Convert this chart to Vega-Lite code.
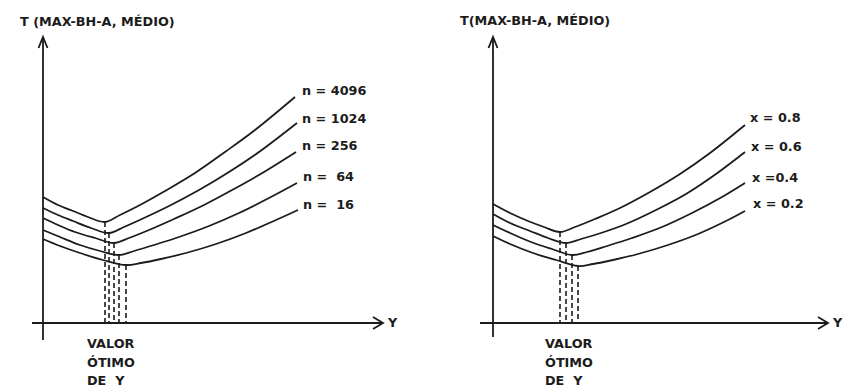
{
  "$schema": "https://vega.github.io/schema/vega-lite/v6.json",
  "padding": 0,
  "spacing": 0,
  "bounds": "flush",
  "background": "white",
  "config": {
    "view": {"stroke": null},
    "text": {"font": "DejaVu Sans", "fontWeight": "bold", "fontSize": 12.8, "color": "#1c1c1c", "align": "left", "baseline": "middle"}
  },
  "datasets": {
    "curvesL": [
      {"s": "4096", "Yv": 0, "Tv": 12.6}, {"s": "4096", "Yv": 1.5, "Tv": 11.8}, {"s": "4096", "Yv": 3.0, "Tv": 11.2}, {"s": "4096", "Yv": 4.5, "Tv": 10.6}, {"s": "4096", "Yv": 6.2, "Tv": 10.1}, {"s": "4096", "Yv": 7.7, "Tv": 10.8}, {"s": "4096", "Yv": 9.7, "Tv": 11.8}, {"s": "4096", "Yv": 12.2, "Tv": 13.2}, {"s": "4096", "Yv": 15.2, "Tv": 15.0}, {"s": "4096", "Yv": 18.2, "Tv": 17.1}, {"s": "4096", "Yv": 21.2, "Tv": 19.3}, {"s": "4096", "Yv": 25.2, "Tv": 22.6},
      {"s": "1024", "Yv": 0, "Tv": 11.5}, {"s": "1024", "Yv": 1.5, "Tv": 10.8}, {"s": "1024", "Yv": 3.0, "Tv": 10.2}, {"s": "1024", "Yv": 4.8, "Tv": 9.5}, {"s": "1024", "Yv": 6.6, "Tv": 9.0}, {"s": "1024", "Yv": 8.1, "Tv": 9.6}, {"s": "1024", "Yv": 10.1, "Tv": 10.5}, {"s": "1024", "Yv": 12.6, "Tv": 11.7}, {"s": "1024", "Yv": 15.6, "Tv": 13.3}, {"s": "1024", "Yv": 18.6, "Tv": 15.1}, {"s": "1024", "Yv": 21.6, "Tv": 17.1}, {"s": "1024", "Yv": 25.4, "Tv": 20.0},
      {"s": "256", "Yv": 0, "Tv": 10.5}, {"s": "256", "Yv": 1.5, "Tv": 9.8}, {"s": "256", "Yv": 3.2, "Tv": 9.1}, {"s": "256", "Yv": 5.2, "Tv": 8.5}, {"s": "256", "Yv": 7.1, "Tv": 8.0}, {"s": "256", "Yv": 8.6, "Tv": 8.5}, {"s": "256", "Yv": 10.6, "Tv": 9.3}, {"s": "256", "Yv": 13.1, "Tv": 10.4}, {"s": "256", "Yv": 16.1, "Tv": 11.8}, {"s": "256", "Yv": 19.1, "Tv": 13.4}, {"s": "256", "Yv": 22.1, "Tv": 15.1}, {"s": "256", "Yv": 25.3, "Tv": 17.1},
      {"s": "64", "Yv": 0, "Tv": 9.3}, {"s": "64", "Yv": 1.7, "Tv": 8.6}, {"s": "64", "Yv": 3.7, "Tv": 7.8}, {"s": "64", "Yv": 5.7, "Tv": 7.2}, {"s": "64", "Yv": 7.6, "Tv": 6.8}, {"s": "64", "Yv": 9.1, "Tv": 7.2}, {"s": "64", "Yv": 11.1, "Tv": 7.8}, {"s": "64", "Yv": 13.6, "Tv": 8.6}, {"s": "64", "Yv": 16.6, "Tv": 9.7}, {"s": "64", "Yv": 19.6, "Tv": 11.0}, {"s": "64", "Yv": 22.6, "Tv": 12.5}, {"s": "64", "Yv": 25.4, "Tv": 14.0},
      {"s": "16", "Yv": 0, "Tv": 8.4}, {"s": "16", "Yv": 1.7, "Tv": 7.7}, {"s": "16", "Yv": 3.7, "Tv": 7.0}, {"s": "16", "Yv": 6.0, "Tv": 6.3}, {"s": "16", "Yv": 8.3, "Tv": 5.8}, {"s": "16", "Yv": 9.8, "Tv": 6.0}, {"s": "16", "Yv": 11.8, "Tv": 6.4}, {"s": "16", "Yv": 14.3, "Tv": 7.0}, {"s": "16", "Yv": 17.3, "Tv": 7.9}, {"s": "16", "Yv": 20.3, "Tv": 9.0}, {"s": "16", "Yv": 23.3, "Tv": 10.3}, {"s": "16", "Yv": 25.5, "Tv": 11.3}
    ],
    "curvesR": [
      {"s": "0.8", "Yv": 0, "Tv": 11.9}, {"s": "0.8", "Yv": 1.7, "Tv": 11.0}, {"s": "0.8", "Yv": 3.5, "Tv": 10.2}, {"s": "0.8", "Yv": 5.1, "Tv": 9.6}, {"s": "0.8", "Yv": 6.7, "Tv": 9.1}, {"s": "0.8", "Yv": 8.2, "Tv": 9.6}, {"s": "0.8", "Yv": 10.2, "Tv": 10.4}, {"s": "0.8", "Yv": 12.7, "Tv": 11.5}, {"s": "0.8", "Yv": 15.7, "Tv": 13.1}, {"s": "0.8", "Yv": 18.7, "Tv": 14.9}, {"s": "0.8", "Yv": 21.7, "Tv": 17.0}, {"s": "0.8", "Yv": 25.2, "Tv": 19.8},
      {"s": "0.6", "Yv": 0, "Tv": 10.9}, {"s": "0.6", "Yv": 1.7, "Tv": 10.0}, {"s": "0.6", "Yv": 3.7, "Tv": 9.2}, {"s": "0.6", "Yv": 5.5, "Tv": 8.5}, {"s": "0.6", "Yv": 7.3, "Tv": 8.0}, {"s": "0.6", "Yv": 8.8, "Tv": 8.4}, {"s": "0.6", "Yv": 10.8, "Tv": 9.0}, {"s": "0.6", "Yv": 13.3, "Tv": 9.9}, {"s": "0.6", "Yv": 16.3, "Tv": 11.3}, {"s": "0.6", "Yv": 19.3, "Tv": 12.9}, {"s": "0.6", "Yv": 22.3, "Tv": 14.9}, {"s": "0.6", "Yv": 25.2, "Tv": 17.1},
      {"s": "0.4", "Yv": 0, "Tv": 9.8}, {"s": "0.4", "Yv": 1.7, "Tv": 9.0}, {"s": "0.4", "Yv": 3.8, "Tv": 8.1}, {"s": "0.4", "Yv": 5.9, "Tv": 7.4}, {"s": "0.4", "Yv": 7.9, "Tv": 6.8}, {"s": "0.4", "Yv": 9.4, "Tv": 7.1}, {"s": "0.4", "Yv": 11.4, "Tv": 7.7}, {"s": "0.4", "Yv": 13.9, "Tv": 8.5}, {"s": "0.4", "Yv": 16.9, "Tv": 9.6}, {"s": "0.4", "Yv": 19.9, "Tv": 11.0}, {"s": "0.4", "Yv": 22.9, "Tv": 12.6}, {"s": "0.4", "Yv": 25.2, "Tv": 14.0},
      {"s": "0.2", "Yv": 0, "Tv": 8.7}, {"s": "0.2", "Yv": 1.7, "Tv": 7.9}, {"s": "0.2", "Yv": 4.0, "Tv": 7.0}, {"s": "0.2", "Yv": 6.3, "Tv": 6.3}, {"s": "0.2", "Yv": 8.5, "Tv": 5.7}, {"s": "0.2", "Yv": 10.0, "Tv": 5.9}, {"s": "0.2", "Yv": 12.0, "Tv": 6.3}, {"s": "0.2", "Yv": 14.5, "Tv": 6.9}, {"s": "0.2", "Yv": 17.5, "Tv": 7.8}, {"s": "0.2", "Yv": 20.5, "Tv": 8.9}, {"s": "0.2", "Yv": 23.5, "Tv": 10.3}, {"s": "0.2", "Yv": 25.2, "Tv": 11.2}
    ],
    "dashL": [
      {"Yv": 6.2, "Tv": 10.1}, {"Yv": 6.6, "Tv": 9.0}, {"Yv": 7.1, "Tv": 8.0}, {"Yv": 7.6, "Tv": 6.8}, {"Yv": 8.3, "Tv": 5.8}
    ],
    "dashR": [
      {"Yv": 6.7, "Tv": 9.1}, {"Yv": 7.3, "Tv": 8.0}, {"Yv": 7.9, "Tv": 6.8}, {"Yv": 8.5, "Tv": 5.7}
    ],
    "vaxisL": [{"Yv": 0, "Tv": -1.7, "Tv2": 28.6}],
    "haxisL": [{"Yv": -1.1, "Yv2": 34.0, "Tv": 0}],
    "vaxisR": [{"Yv": 0, "Tv": -1.4, "Tv2": 28.6}],
    "haxisR": [{"Yv": -1.3, "Yv2": 33.5, "Tv": 0}],
    "arrowsL": [{"Yv": 0, "Tv": 28.6, "dir": "up"}, {"Yv": 34.0, "Tv": 0, "dir": "right"}],
    "arrowsR": [{"Yv": 0, "Tv": 28.6, "dir": "up"}, {"Yv": 33.5, "Tv": 0, "dir": "right"}],
    "textL": [
      {"Yv": -2.3, "Tv": 30.1, "label": "T (MAX-BH-A, MÉDIO)"},
      {"Yv": 34.5, "Tv": 0, "label": "Y"},
      {"Yv": 25.9, "Tv": 23.2, "label": "n = 4096"},
      {"Yv": 25.9, "Tv": 20.4, "label": "n = 1024"},
      {"Yv": 25.9, "Tv": 17.7, "label": "n = 256"},
      {"Yv": 26.0, "Tv": 14.6, "label": "n =\u00a0\u00a064"},
      {"Yv": 26.0, "Tv": 11.8, "label": "n =\u00a0\u00a016"},
      {"Yv": 4.4, "Tv": -2.1, "label": "VALOR"},
      {"Yv": 4.4, "Tv": -4.0, "label": "ÓTIMO"},
      {"Yv": 4.4, "Tv": -5.8, "label": "DE\u00a0\u00a0Y"}
    ],
    "textR": [
      {"Yv": -3.3, "Tv": 30.2, "label": "T(MAX-BH-A, MÉDIO)"},
      {"Yv": 34.0, "Tv": 0, "label": "Y"},
      {"Yv": 25.7, "Tv": 20.5, "label": "x = 0.8"},
      {"Yv": 25.8, "Tv": 17.6, "label": "x = 0.6"},
      {"Yv": 25.9, "Tv": 14.5, "label": "x =0.4"},
      {"Yv": 26.0, "Tv": 11.9, "label": "x = 0.2"},
      {"Yv": 5.2, "Tv": -2.1, "label": "VALOR"},
      {"Yv": 5.2, "Tv": -4.0, "label": "ÓTIMO"},
      {"Yv": 5.2, "Tv": -5.8, "label": "DE\u00a0\u00a0Y"}
    ]
  },
  "hconcat": [
    {
      "width": 421,
      "height": 389,
      "encoding": {
        "x": {"field": "Yv", "type": "quantitative", "scale": {"domain": [-4.3, 37.8], "nice": false, "zero": false}, "axis": null},
        "y": {"field": "Tv", "type": "quantitative", "scale": {"domain": [-6.6, 32.3], "nice": false, "zero": false}, "axis": null}
      },
      "layer": [
        {"data": {"name": "dashL"}, "mark": {"type": "rule", "color": "#1c1c1c", "strokeWidth": 1.6, "strokeDash": [5, 3]}, "encoding": {"y2": {"datum": 0}}},
        {"data": {"name": "curvesL"}, "mark": {"type": "line", "color": "#1c1c1c", "strokeWidth": 1.8, "interpolate": "catmull-rom"}, "encoding": {"detail": {"field": "s"}}},
        {"data": {"name": "vaxisL"}, "mark": {"type": "rule", "color": "#1c1c1c", "strokeWidth": 1.8}, "encoding": {"y2": {"field": "Tv2"}}},
        {"data": {"name": "haxisL"}, "mark": {"type": "rule", "color": "#1c1c1c", "strokeWidth": 1.8}, "encoding": {"x2": {"field": "Yv2"}}},
        {"data": {"name": "arrowsL"}, "mark": {"type": "point", "filled": false, "size": 100, "strokeWidth": 1.8, "color": "#1c1c1c", "opacity": 1}, "encoding": {"shape": {"field": "dir", "type": "nominal", "scale": {"domain": ["up", "right"], "range": ["M-0.9,2.2L0,0L0.9,2.2", "M-2,-1.2L0,0L-2,1.2"]}, "legend": null}}},
        {"data": {"name": "textL"}, "mark": {"type": "text"}, "encoding": {"text": {"field": "label"}}}
      ]
    },
    {
      "width": 422,
      "height": 389,
      "encoding": {
        "x": {"field": "Yv", "type": "quantitative", "scale": {"domain": [-7.2, 35.0], "nice": false, "zero": false}, "axis": null},
        "y": {"field": "Tv", "type": "quantitative", "scale": {"domain": [-6.6, 32.3], "nice": false, "zero": false}, "axis": null}
      },
      "layer": [
        {"data": {"name": "dashR"}, "mark": {"type": "rule", "color": "#1c1c1c", "strokeWidth": 1.6, "strokeDash": [5, 3]}, "encoding": {"y2": {"datum": 0}}},
        {"data": {"name": "curvesR"}, "mark": {"type": "line", "color": "#1c1c1c", "strokeWidth": 1.8, "interpolate": "catmull-rom"}, "encoding": {"detail": {"field": "s"}}},
        {"data": {"name": "vaxisR"}, "mark": {"type": "rule", "color": "#1c1c1c", "strokeWidth": 1.8}, "encoding": {"y2": {"field": "Tv2"}}},
        {"data": {"name": "haxisR"}, "mark": {"type": "rule", "color": "#1c1c1c", "strokeWidth": 1.8}, "encoding": {"x2": {"field": "Yv2"}}},
        {"data": {"name": "arrowsR"}, "mark": {"type": "point", "filled": false, "size": 100, "strokeWidth": 1.8, "color": "#1c1c1c", "opacity": 1}, "encoding": {"shape": {"field": "dir", "type": "nominal", "scale": {"domain": ["up", "right"], "range": ["M-0.9,2.2L0,0L0.9,2.2", "M-2,-1.2L0,0L-2,1.2"]}, "legend": null}}},
        {"data": {"name": "textR"}, "mark": {"type": "text"}, "encoding": {"text": {"field": "label"}}}
      ]
    }
  ]
}
